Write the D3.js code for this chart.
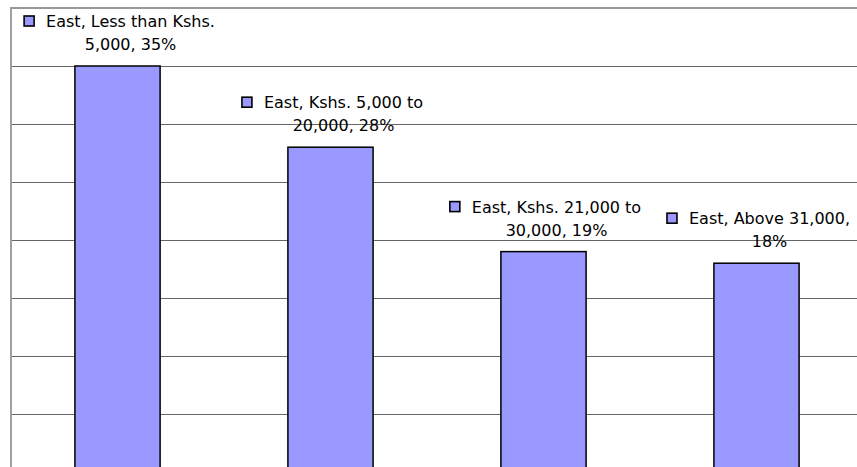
<!DOCTYPE html>
<html>
<head>
<meta charset="utf-8">
<script src="https://cdn.jsdelivr.net/npm/d3@7"></script>
<style>
  html, body { margin: 0; padding: 0; background: #fff; }
  svg { display: block; }
</style>
</head>
<body>
<svg id="chart"></svg>
<script>
// 类别与数值
const categories = ["Less than Kshs. 5,000", "Kshs. 5,000 to 20,000", "Kshs. 21,000 to 30,000", "Above 31,000"];
const values = [35, 28, 19, 18];
const series = "East";
// 每个标签的两行文字
const labelLines = [
  ["East, Less than Kshs.", "5,000, 35%"],
  ["East, Kshs. 5,000 to", "20,000, 28%"],
  ["East, Kshs. 21,000 to", "30,000, 19%"],
  ["East, Above 31,000,", "18%"]
];
const gridTicks = [5, 10, 15, 20, 25, 30, 35];

const width = 857, height = 467;
const plotLeft = 11, plotRight = 863, plotTop = 8, plotBottom = 472;

const svg = d3.select("#chart")
  .attr("width", width)
  .attr("height", height);

const x = d3.scaleBand()
  .domain(categories)
  .range([plotLeft, plotRight])
  .paddingInner(0.6)
  .paddingOuter(0.3);

const y = d3.scaleLinear()
  .domain([0, 40])
  .range([plotBottom, plotTop]);

// 网格线
svg.append("g")
  .selectAll("line")
  .data(gridTicks)
  .enter()
  .append("line")
  .attr("x1", plotLeft)
  .attr("x2", width)
  .attr("y1", d => Math.round(y(d)) + 0.5)
  .attr("y2", d => Math.round(y(d)) + 0.5)
  .attr("stroke", "#666")
  .attr("stroke-width", 1);

// 绘图区边框（上、左）
svg.append("line")
  .attr("x1", plotLeft).attr("x2", width)
  .attr("y1", plotTop).attr("y2", plotTop)
  .attr("stroke", "#999").attr("stroke-width", 2);
svg.append("line")
  .attr("x1", plotLeft).attr("x2", plotLeft)
  .attr("y1", plotTop - 1).attr("y2", height)
  .attr("stroke", "#a0a0a0").attr("stroke-width", 2);

// 柱子
svg.append("g")
  .selectAll("rect")
  .data(values)
  .enter()
  .append("rect")
  .attr("x", (d, i) => x(categories[i]))
  .attr("y", d => y(d))
  .attr("width", x.bandwidth())
  .attr("height", d => y(0) - y(d))
  .attr("fill", "#9999ff")
  .attr("stroke", "#000")
  .attr("stroke-width", 1.5);

// 数据标签
const labels = svg.append("g")
  .selectAll("g.label")
  .data(values)
  .enter()
  .append("g")
  .attr("class", "label")
  .attr("font-family", "'DejaVu Sans', Verdana, sans-serif")
  .attr("font-size", 16)
  .attr("fill", "#000");

labels.each(function (d, i) {
  const g = d3.select(this);
  const cx = x(categories[i]) + x.bandwidth() / 2 + 13;
  const top = y(d);
  const t1 = g.append("text")
    .attr("x", cx)
    .attr("y", top - 39)
    .attr("text-anchor", "middle")
    .text(labelLines[i][0]);
  g.append("text")
    .attr("x", cx)
    .attr("y", top - 16)
    .attr("text-anchor", "middle")
    .text(labelLines[i][1]);
  const w = t1.node().getComputedTextLength();
  g.append("rect")
    .attr("x", cx - w / 2 - 22)
    .attr("y", top - 50)
    .attr("width", 10)
    .attr("height", 10)
    .attr("fill", "#9999ff")
    .attr("stroke", "#000")
    .attr("stroke-width", 1.6);
});
</script>
</body>
</html>
